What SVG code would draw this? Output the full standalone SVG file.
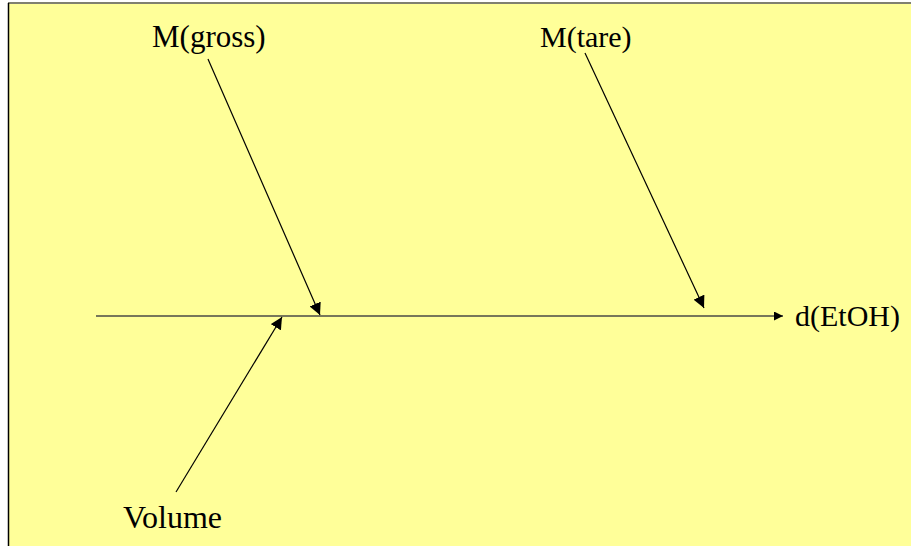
<svg xmlns="http://www.w3.org/2000/svg" width="911" height="546" viewBox="0 0 911 546">
<style>
.lbl{font-family:"Liberation Serif","Times New Roman",serif;font-size:30px;fill:#000}
.arr{stroke:#000;stroke-width:1.2;fill:none}
</style>
<defs>
<marker id="ah" viewBox="0 0 10 10" refX="10" refY="5" markerWidth="9" markerHeight="9" markerUnits="userSpaceOnUse" orient="auto"><path d="M0,0L10,5L0,10z" fill="#000"/></marker>
<marker id="ah2" viewBox="0 0 10 10" refX="10" refY="5" markerWidth="12" markerHeight="12" markerUnits="userSpaceOnUse" orient="auto"><path d="M0,0L10,5L0,10z" fill="#000"/></marker>
</defs>
<rect x="0" y="0" width="911" height="546" fill="#fff"/>
<rect x="8" y="3" width="903" height="543" fill="#ffff99"/>
<line x1="8" y1="3" x2="911" y2="3" stroke="#808070" stroke-width="2"/>
<line x1="8.5" y1="3" x2="8.5" y2="546" stroke="#000" stroke-width="1.5"/>
<g id="connectors">
<line x1="96" y1="316" x2="783" y2="316" stroke="#77775a" stroke-width="2" marker-end="url(#ah)"/>
<line class="arr" x1="208" y1="59" x2="320" y2="315" marker-end="url(#ah2)"/>
<line class="arr" x1="585" y1="53" x2="704" y2="308" marker-end="url(#ah2)"/>
<line class="arr" x1="176" y1="492" x2="282" y2="317" marker-end="url(#ah2)"/>
</g>
<g id="node-mgross"><text class="lbl" x="152" y="47" style="font-size:31px">M(gross)</text></g>
<g id="node-mtare"><text class="lbl" x="540" y="47">M(tare)</text></g>
<g id="node-volume"><text class="lbl" x="123" y="528" style="font-size:32px">Volume</text></g>
<g id="node-detoh"><text class="lbl" x="795" y="326">d(EtOH)</text></g>
</svg>
